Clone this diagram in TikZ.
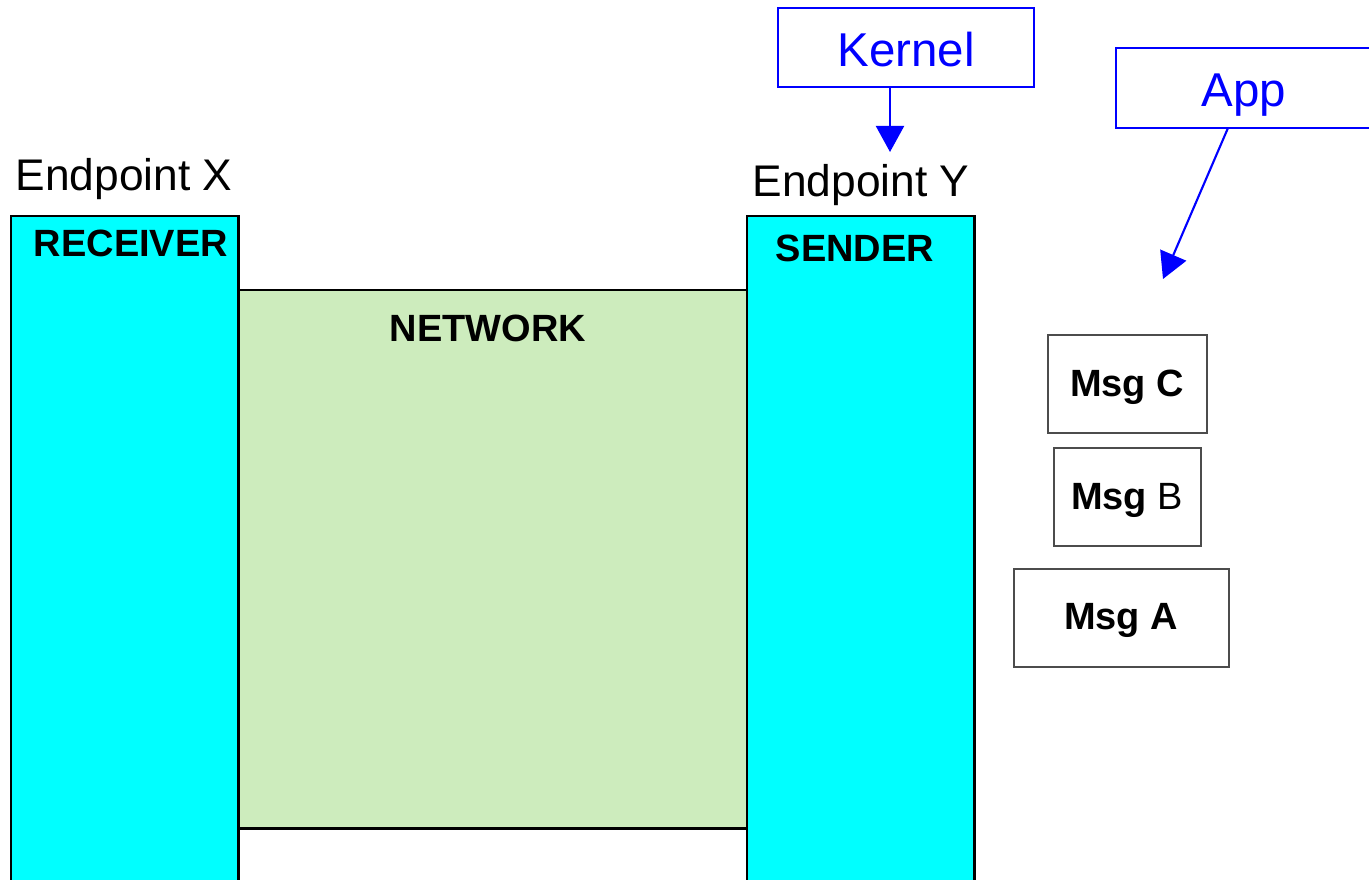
\documentclass[tikz,border=0pt]{standalone}
\usepackage{fontspec}
\setmainfont{Liberation Sans}
\usetikzlibrary{arrows.meta}
\definecolor{cyanbox}{HTML}{00FFFF}
\definecolor{netgreen}{HTML}{CDECBD}
\definecolor{pureblue}{HTML}{0000FF}
\begin{document}
\begin{tikzpicture}[x=0.01cm,y=-0.01cm,
  box/.style={draw=black,line width=0.8pt,anchor=north west,inner sep=0pt,outer sep=0pt},
  bluebox/.style={draw=pureblue,line width=0.6pt,fill=white,anchor=north west,inner sep=0pt,outer sep=0pt},
  msgbox/.style={draw=black!70,line width=0.4pt,anchor=north west,inner sep=0pt,outer sep=0pt},
  bluetext/.style={text=pureblue,font=\fontsize{13.5}{15}\selectfont},
  eptext/.style={font=\fontsize{12.6}{14}\selectfont},
  boldtext/.style={font=\fontsize{10.8}{12}\selectfont\bfseries},
  bluearrow/.style={draw=pureblue,line width=0.6pt,-{Triangle[length=2.6mm,width=2.8mm]}}]
\useasboundingbox (0,0) rectangle (1369,880);
\clip (0,0) rectangle (1369,880);
% network
\node[box,fill=netgreen,minimum width=5.09cm,minimum height=5.38cm] (net) at (238,290) {};
% endpoints
\node[box,fill=cyanbox,minimum width=2.27cm,minimum height=7.0cm] (recv) at (11,216) {};
\node[box,fill=cyanbox,minimum width=2.27cm,minimum height=7.0cm] (send) at (747,216) {};
\node[boldtext] (recvt) at (131,243) {RECEIVER};
\node[boldtext] (sendt) at (855,248) {SENDER};
\node[boldtext] (nett) at (488,328) {NETWORK};
\node[eptext] (epx) at (124,179) {Endpoint X};
\node[eptext] (epy) at (861,185) {Endpoint Y};
% blue boxes
\node[bluebox,minimum width=2.56cm,minimum height=0.79cm] (kern) at (778,8) {};
\node[bluetext] at (906,50) {Kernel};
\node[bluebox,minimum width=2.8cm,minimum height=0.80cm] (app) at (1116,48) {};
\node[bluetext] at (1244,95) {App};
% messages
\node[msgbox,minimum width=1.59cm,minimum height=0.98cm] (mc) at (1048,335) {};
\node[boldtext] at (1127,387) {Msg C};
\node[msgbox,minimum width=1.47cm,minimum height=0.98cm] (mb) at (1054,448) {};
\node[font=\fontsize{10.8}{12}\selectfont] at (1127,500) {\textbf{Msg} B};
\node[msgbox,minimum width=2.15cm,minimum height=0.98cm] (ma) at (1014,569) {};
\node[boldtext] at (1121,620) {Msg A};
% arrows
\coordinate (ktip) at (890,152);
\coordinate (kstart) at (890,87);
\draw[bluearrow] (kstart) -- (ktip);
\coordinate (astart) at (1228,128);
\coordinate (atip) at (1163,279);
\draw[bluearrow] (astart) -- (atip);
\end{tikzpicture}
\end{document}
